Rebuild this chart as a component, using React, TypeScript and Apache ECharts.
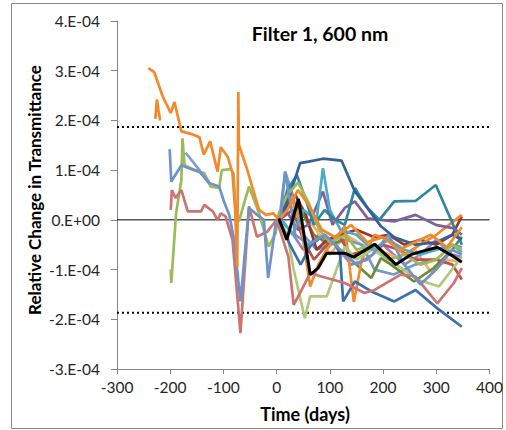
import React, { useEffect, useRef } from "react";
import * as echarts from "echarts";

// y values in units of 1E-4
const yTicks = [-3, -2, -1, 0, 1, 2, 3, 4];
const xTicks = [-300, -200, -100, 0, 100, 200, 300, 400];
const limitLevel = 1.87;

const orangeMain = [[-241,3.05],[-230,2.97],[-214,2.48],[-199,2.15],[-192,2.37],[-179,1.78],[-161,1.73],[-145,1.66],[-137,1.31],[-125,1.58],[-111,0.97],[-105,1.46],[-92,1.27],[-83,0.94],[-78,0.2],[-74,-0.95],[-72,2.57],[-71,1.51],[-55,1.0],[-46,0.67],[-33,0.2],[-20,0.1],[-6,0.13],[4,0],[20,0.2],[40,0.6],[60,0.3],[85,-0.2],[110,-0.35],[140,-0.1],[170,-0.45],[200,-0.35],[230,-0.6],[260,-0.45],[290,-0.3],[320,-0.55],[348,-0.15]];
const orangeHook = [[-228,2.03],[-225,2.42],[-222,2.2],[-219,2.0]];
const blueA = [[-201,1.42],[-198,0.77],[-179,1.1],[-160,1.02],[-145,0.97],[-127,0.74],[-108,0.67],[-99,0.37],[-89,0.1],[-80,-0.4],[-68,-1.64],[-52,0.24],[-33,0.07],[-24,0],[-16,-1.17],[-2,-0.1],[8,0.1],[16,0.97],[35,-0.3],[60,-0.5],[90,-0.3],[120,-0.6],[150,-0.9],[180,-0.7],[210,-0.3],[240,-0.9],[270,-1.3],[300,-1.0],[330,-0.6],[348,-0.7]];
const blueB = [[-171,1.35],[-156,1.15],[-143,0.97],[-127,0.76]];
const redLeft = [[-199,0.2],[-197,0.6],[-190,0.44],[-179,0.6],[-167,0.17],[-142,0.17],[-136,0.3],[-120,0.17],[-111,0],[-105,0.13],[-96,0.07],[-83,-0.4],[-68,-2.28],[-52,0.27],[-37,-0.34],[-18,-0.24],[0,0],[22,-0.74],[32,-1.71],[47,-1.41],[63,-1.07],[84,-1.14],[128,-1.27],[165,-1.47],[184,-1.41],[233,-1.1],[261,-1.14],[302,-1.68],[333,-1.27],[348,-0.97]];
const greenLeft = [[-199,-1.0],[-198,-1.27],[-189,0.13],[-179,0.8],[-177,1.64],[-173,1.1],[-148,0.97],[-136,0.94],[-124,0.67],[-108,0.64],[-103,1.0],[-86,1.02],[-81,0.94],[-77,0.2],[-71,-0.03],[-52,0.67],[-33,0.13],[-15,-0.54],[-2,-0.27],[4,0.13],[20,0.5],[40,0.75],[60,0.35],[80,-0.2],[100,-0.45],[130,-0.3],[150,-0.6],[180,-0.5],[210,-0.8],[240,-0.7],[270,-0.9],[300,-0.8],[330,-0.5],[348,-0.6]];
const darkBlueArc = [[5,0],[25,0.5],[44,1.14],[60,1.17],[87,1.23],[122,1.19],[147,0.57],[171,0.23],[196,-0.13],[221,-0.35],[261,-0.5],[300,-0.45],[330,-0.3],[348,-0.4]];
const tealDark = [[5,0],[20,0.6],[38,0.9],[55,0.4],[70,-0.1],[90,0.2],[110,0.0],[128,-0.1],[147,0.64],[155,0.5],[171,0.24],[193,0],[221,0.37],[261,0.38],[299,0.7],[333,-0.13],[348,-0.5]];
const tealSpike = [[10,0],[30,-0.3],[50,0.2],[75,0.0],[87,1.04],[100,0.2],[120,-0.2],[150,-0.3],[180,-0.6],[210,-0.4],[240,-0.6],[270,-0.7],[300,-0.6],[330,-0.5],[348,-0.55]];
const purple = [[5,0],[20,0.15],[40,-0.2],[60,-0.1],[87,0.57],[105,-0.1],[128,0.24],[147,0.37],[171,0.03],[196,0],[221,-0.03],[261,0.1],[299,-0.1],[333,-0.17],[348,-0.3]];
const blueLow = [[5,0],[25,-0.5],[45,-0.9],[65,-0.5],[90,-0.3],[110,-0.5],[119,-0.67],[125,-1.64],[147,-1.24],[178,-1.44],[221,-1.64],[261,-1.41],[302,-1.78],[348,-2.15]];
const lightGreen = [[5,0],[20,-0.3],[32,-1.0],[53,-1.98],[63,-1.54],[94,-1.54],[128,-0.54],[150,-0.8],[180,-0.6],[225,-0.9],[264,-1.2],[305,-1.34],[348,-0.74]];
const orangeDip = [[5,0],[25,0.6],[47,-0.2],[63,-1.34],[78,-0.9],[94,-0.6],[128,-0.13],[145,-1.65],[160,-0.8],[184,-0.3],[210,-0.4],[240,-0.7],[270,-0.5],[300,-0.3],[348,0.1]];
const darkRed = [[5,0],[20,0.3],[35,0.5],[55,0.1],[75,-0.6],[95,-0.4],[120,-0.3],[150,-0.2],[184,-0.35],[210,-0.3],[240,-0.5],[270,-0.4],[300,-0.5],[330,-0.3],[348,0.07]];
const redEnd = [[5,0],[30,0.2],[50,-0.4],[70,-0.8],[95,-0.5],[115,-0.3],[140,-0.7],[170,-0.6],[200,-0.5],[230,-0.6],[260,-0.8],[300,-0.8],[330,-0.9],[348,-1.2]];
const olive = [[5,0],[25,0.4],[45,0.2],[70,-0.3],[100,-0.5],[125,-0.4],[140,-0.8],[178,-1.17],[196,-0.77],[215,-0.9],[258,-1.24],[295,-0.97],[330,-0.6],[348,-0.34]];
const lightBlue = [[5,0],[16,0.97],[30,0.5],[50,-0.3],[75,-0.6],[100,-0.5],[130,-0.4],[160,-0.5],[184,-1.0],[220,-1.1],[260,-0.9],[300,-0.8],[330,-0.5],[348,-0.65]];
const lightOrange = [[5,0],[25,0.3],[50,0.1],[75,-0.2],[100,-0.7],[130,-0.3],[160,-0.5],[190,-0.6],[225,-0.75],[260,-0.6],[290,-1.05],[320,-0.8],[348,-0.85]];
const lightPurple = [[5,0],[25,-0.2],[50,-0.6],[80,-0.3],[110,-0.5],[140,-0.9],[170,-0.8],[200,-0.5],[240,-0.9],[270,-0.7],[300,-0.4],[330,-0.7],[348,-0.75]];
const average = [[4,0.03],[19,-0.4],[41,0.42],[63,-1.1],[78,-0.97],[94,-0.67],[128,-0.67],[145,-0.75],[184,-0.49],[209,-0.74],[224,-0.9],[252,-0.7],[271,-0.64],[302,-0.55],[333,-0.74],[348,-0.85]];

const seriesList: [number[][], string][] = [
  [lightPurple, "#9983B5"],
  [lightOrange, "#F9AB6B"],
  [lightBlue, "#729ACA"],
  [olive, "#6E8B36"],
  [redEnd, "#C0504D"],
  [darkRed, "#953735"],
  [orangeDip, "#F08A2C"],
  [lightGreen, "#AFC97A"],
  [blueLow, "#3D6FAE"],
  [purple, "#7F5FA0"],
  [tealSpike, "#4BACC6"],
  [tealDark, "#31859C"],
  [darkBlueArc, "#30619A"],
  [greenLeft, "#9BBB59"],
  [redLeft, "#CD7371"],
  [blueB, "#7FA1D0"],
  [blueA, "#6F93C8"],
  [orangeHook, "#F08A2C"],
  [orangeMain, "#F08A2C"],
];

const font = "Lato, 'Noto Sans', sans-serif";

export default function App() {
  const ref = useRef<HTMLDivElement>(null);
  useEffect(() => {
    document.body.style.margin = "0";
    const chart = echarts.init(ref.current!, null, { renderer: "svg" });
    const series: any[] = seriesList.map(([d, c]) => ({
      type: "line",
      data: d,
      symbol: "none",
      lineStyle: { color: c, width: 2.7 },
      itemStyle: { color: c },
      z: 3,
    }));
    series.push({
      type: "line", data: average, symbol: "none",
      lineStyle: { color: "#000", width: 3 }, z: 5,
    });
    series.push({
      type: "line", data: [[-300, 0], [400, 0]], symbol: "none",
      lineStyle: { color: "#000", width: 1 }, z: 2,
    });
    series.push({
      type: "line", data: [[-300, limitLevel], [400, limitLevel]], symbol: "none",
      lineStyle: { color: "#000", width: 2, type: [2, 3] }, z: 2,
    });
    series.push({
      type: "line", data: [[-300, -limitLevel], [400, -limitLevel]], symbol: "none",
      lineStyle: { color: "#000", width: 2, type: [2, 3] }, z: 2,
    });
    chart.setOption({
      animation: false,
      textStyle: { fontFamily: font },
      grid: { left: 117, right: 13, top: 21, bottom: 61 },
      xAxis: {
        type: "value", min: xTicks[0], max: xTicks[xTicks.length - 1], interval: 100,
        axisLine: { onZero: false, lineStyle: { color: "#868686" } },
        axisTick: { length: 5, lineStyle: { color: "#868686" } },
        splitLine: { show: false },
        axisLabel: { color: "#262626", fontSize: 15.5, fontFamily: font, margin: 10 },
      },
      yAxis: {
        type: "value", min: yTicks[0], max: yTicks[yTicks.length - 1], interval: 1,
        axisLine: { show: true, onZero: false, lineStyle: { color: "#868686" } },
        axisTick: { show: true, length: 6, lineStyle: { color: "#868686" } },
        splitLine: { show: false },
        axisLabel: {
          color: "#262626", fontSize: 15.5, fontFamily: font, margin: 17,
          formatter: (v: number) => (v === 0 ? "0.E+00" : `${v}.E-04`),
        },
      },
      series,
      graphic: [
        { type: "rect", shape: { x: 11.5, y: 3.5, width: 491, height: 425 }, style: { fill: "none", stroke: "#888", lineWidth: 1 }, silent: true },
        { type: "text", x: 320, y: 33, style: { text: "Filter 1, 600 nm", font: `bold 19.5px ${font}`, fill: "#000", textAlign: "center", textVerticalAlign: "middle" } },
        { type: "text", x: 305, y: 414, style: { text: "Time (days)", font: `bold 18px ${font}`, fill: "#000", textAlign: "center", textVerticalAlign: "middle" } },
        { type: "text", x: 34, y: 190, rotation: Math.PI / 2, style: { text: "Relative Change in Transmittance", font: `bold 17px ${font}`, fill: "#000", textAlign: "center", textVerticalAlign: "middle" } },
      ],
    });
    return () => chart.dispose();
  }, []);
  return <div ref={ref} style={{ width: 506, height: 430 }} />;
}
